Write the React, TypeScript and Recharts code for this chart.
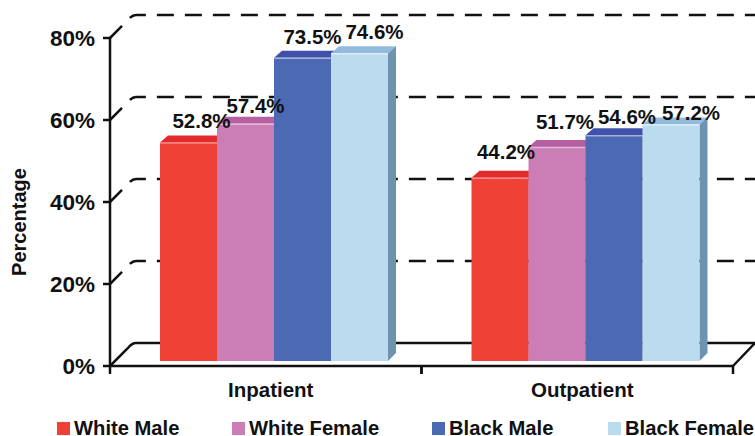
import { BarChart, Bar, XAxis, YAxis, CartesianGrid, Legend, LabelList } from 'recharts';

const categories = ['Inpatient', 'Outpatient'];
const whiteMale = [52.8, 44.2];
const whiteFemale = [57.4, 51.7];
const blackMale = [73.5, 54.6];
const blackFemale = [74.6, 57.2];
const yTicks = [0, 20, 40, 60, 80];

const data = categories.map((name, i) => ({
	name,
	whiteMale: whiteMale[i],
	whiteFemale: whiteFemale[i],
	blackMale: blackMale[i],
	blackFemale: blackFemale[i],
}));

const font = '"Liberation Sans", Arial, sans-serif';
const plotWidth = 623;

// front, top, side, edge highlight
const seriesStyles = [
	{ key: 'whiteMale', label: 'White Male', front: '#EF4135', top: '#E2292B', side: '#B8322C', edge: '#F58A80', legendW: 175 },
	{ key: 'whiteFemale', label: 'White Female', front: '#CB7DB5', top: '#B660A3', side: '#9C5A8E', edge: '#E2B8D6', legendW: 200 },
	{ key: 'blackMale', label: 'Black Male', front: '#4C69B3', top: '#3F51A8', side: '#3A5088', edge: '#A3B2DA', legendW: 176 },
	{ key: 'blackFemale', label: 'Black Female', front: '#BBDCEE', top: '#93BBDB', side: '#6E93AF', edge: '#DCEDF7', legendW: 147 },
];

// hand placement of the value labels, per category
const labelNudges: Record<string, { x: number; y: number }[]> = {
	whiteMale: [{ x: 21, y: -22 }, { x: 14, y: -26 }],
	whiteFemale: [{ x: 18, y: -18 }, { x: 16, y: -26 }],
	blackMale: [{ x: 18, y: -21 }, { x: 21, y: -19 }],
	blackFemale: [{ x: 23, y: -22 }, { x: 28, y: -12 }],
};

const Bar3D = (props: any) => {
	const { x, y, width, height, fill, top, side, edge } = props;
	const left = x + 8;
	const right = left + width;
	const topY = y - 7;
	const bottom = y + height - 5;
	const d = 8;
	return (
		<g>
			<polygon points={`${left},${topY} ${left + d},${topY - 7} ${right + d},${topY - 7} ${right},${topY}`} fill={top} />
			<polygon points={`${right},${topY} ${right + d},${topY - 7} ${right + d},${bottom - 8} ${right},${bottom}`} fill={side} />
			<rect x={left} y={topY} width={width} height={bottom - topY} fill={fill} />
			<line x1={left} y1={topY + 0.5} x2={right} y2={topY + 0.5} stroke={edge} strokeWidth={1.5} />
		</g>
	);
};

const WallLine = (props: any) => {
	const { x1, y1, x2, index } = props;
	const solid = y1 > 300;
	return (
		<path
			key={index}
			d={`M${x1},${y1} L${x1 + 18},${y1 - 18} Q${x1 + 22},${y1 - 23} ${x1 + 26},${y1 - 23} L${x2 + 22},${y1 - 23}${solid ? ` L${x2},${y1}` : ''}`}
			fill="none"
			stroke="#111"
			strokeWidth={2.5}
			strokeDasharray={solid ? undefined : '17 11'}
		/>
	);
};

const CategoryTick = (props: any) => {
	const { x, y, payload } = props;
	const half = plotWidth / categories.length / 2;
	return (
		<g>
			<line x1={x - half} y1={y - 14} x2={x - half} y2={y - 6} stroke="#111" strokeWidth={2.5} />
			<line x1={x + half} y1={y - 14} x2={x + half} y2={y - 6} stroke="#111" strokeWidth={2.5} />
			<text x={x + 5} y={y + 17} textAnchor="middle" fontFamily={font} fontWeight="bold" fontSize={20.5} fill="#111">
				{payload.value}
			</text>
		</g>
	);
};

const valueLabel = (key: string) => (props: any) => {
	const { x, y, width, value, index } = props;
	const nudge = labelNudges[key][index];
	return (
		<text
			x={x + width / 2 + nudge.x}
			y={y - 7 + nudge.y}
			textAnchor="middle"
			dominantBaseline="central"
			fontFamily={font}
			fontWeight="bold"
			fontSize={20.5}
			fill="#111"
		>
			{`${value.toFixed(1)}%`}
		</text>
	);
};

const LegendRow = () => (
	<div style={{ display: 'flex', paddingLeft: 57, whiteSpace: 'nowrap', fontFamily: font, fontWeight: 'bold', fontSize: 20.2, lineHeight: '16px', color: '#111' }}>
		{seriesStyles.map((s) => (
			<div key={s.key} style={{ width: s.legendW, flex: 'none', display: 'flex', alignItems: 'center', gap: 4 }}>
				<span style={{ width: 13, height: 13, background: s.front, display: 'inline-block' }}></span>
				<span>{s.label}</span>
			</div>
		))}
	</div>
);

export default function App() {
	return (
		<div style={{ position: 'absolute', left: 0, top: 0, width: 755, height: 436, background: '#fff' }}>
			<BarChart
				width={755}
				height={436}
				data={data}
				barSize={57}
				barGap={0}
				margin={{ top: 38, right: 22, bottom: 40, left: 0 }}
			>
				<CartesianGrid vertical={false} horizontal={(p: any) => <WallLine {...p} />} />
				<XAxis
					dataKey="name"
					axisLine={{ stroke: '#111', strokeWidth: 2.5 }}
					tickLine={false}
					tick={<CategoryTick />}
					height={30}
					tickMargin={8}
					interval={0}
				/>
				<YAxis
					domain={[0, 80]}
					ticks={yTicks}
					width={110}
					axisLine={{ stroke: '#111', strokeWidth: 2.5 }}
					tickLine={{ stroke: '#111', strokeWidth: 2.5 }}
					tickSize={7}
					tickMargin={8}
					tickFormatter={(v: number) => `${v}%`}
					tick={{ fontFamily: font, fontWeight: 'bold', fontSize: 22.5, fill: '#111' }}
					label={{
						value: 'Percentage',
						angle: -90,
						position: 'insideLeft',
						offset: 0,
						dx: 19,
						dy: 20,
						style: { fontFamily: font, fontWeight: 'bold', fontSize: 20, fill: '#111', textAnchor: 'middle' },
					}}
				/>
				<Legend
					layout="horizontal"
					verticalAlign="middle"
					align="center"
					content={<LegendRow />}
					wrapperStyle={{ left: 0, top: 420, width: 755 }}
				/>
				{seriesStyles.map((s) => (
					<Bar
						key={s.key}
						dataKey={s.key}
						name={s.label}
						fill={s.front}
						isAnimationActive={false}
						shape={<Bar3D top={s.top} side={s.side} edge={s.edge} />}
					>
						<LabelList dataKey={s.key} content={valueLabel(s.key)} />
					</Bar>
				))}
			</BarChart>
		</div>
	);
}
